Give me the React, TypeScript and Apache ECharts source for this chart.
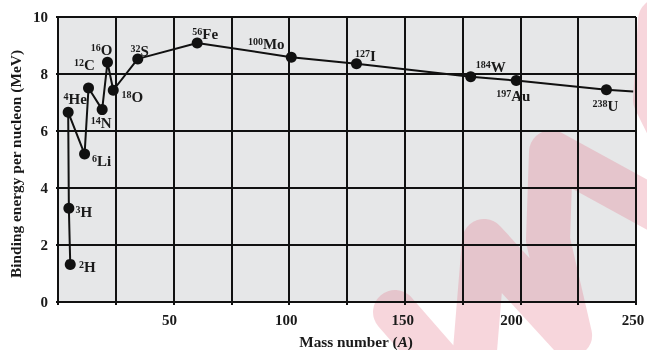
import React, { useEffect, useRef } from "react";
import * as echarts from "echarts";

// ---- data ----
const nuclides = ["2H", "3H", "4He", "6Li", "12C", "14N", "16O", "18O", "32S", "56Fe", "100Mo", "127I", "184W", "197Au", "238U", ""];
const massNumbers = [5.3, 4.7, 4.4, 11.5, 13.2, 19.1, 21.4, 23.9, 34.5, 60.2, 100.9, 129.1, 178.5, 198.2, 237.2, 248.8];
const bindingEnergy = [1.32, 3.29, 6.66, 5.19, 7.51, 6.75, 8.41, 7.43, 8.53, 9.09, 8.59, 8.36, 7.9, 7.77, 7.45, 7.39];
const xTickLabels = [50, 100, 150, 200, 250];
const yTickLabels = [0, 2, 4, 6, 8, 10];
const xTitle = "Mass number ({i|A})";
const yTitle = "Binding energy per nucleon (MeV)";

// ---- label placement (style) ----
const labelOffsets: Record<string, [number, number]> = {
  "2H": [17, 3],
  "3H": [15, 4],
  "4He": [7, -13],
  "6Li": [17, 7],
  "12C": [-4, -23],
  "14N": [-1, 13],
  "16O": [-6, -12],
  "18O": [19, 7],
  "32S": [2, -8],
  "56Fe": [8, -9],
  "100Mo": [-25, -13],
  "127I": [9, -8],
  "184W": [20, -10],
  "197Au": [-3, 15],
  "238U": [-1, 16],
};
const xLabelShift: Record<number, number> = { 50: 4, 100: 3, 150: 2, 200: 9, 250: 3 };
// decorative background watermark stroke (pixels)
const watermarkPath = [
  [395, 312], [471, 399], [484, 241], [570, 335], [548, 240], [551, 152], [730, 250], [655, 100], [660, 20],
];

const SERIF = "'Liberation Serif', 'DejaVu Serif', serif";

export default function App() {
  const ref = useRef<HTMLDivElement>(null);
  useEffect(() => {
    document.body.style.margin = "0";
    const chart = echarts.init(ref.current!, null, { renderer: "svg" });
    const gridLeft = 58, gridTop = 17, gridW = 578, gridH = 285;

    const data = massNumbers.map((x, i) => {
      const name = nuclides[i];
      if (!name) return { value: [x, bindingEnergy[i]], symbol: "none", label: { show: false } };
      const m = name.match(/^(\d+)(\D+)$/)!;
      return {
        name,
        value: [x, bindingEnergy[i]],
        label: {
          show: true,
          position: "inside",
          align: "center",
          verticalAlign: "middle",
          offset: labelOffsets[name],
          formatter: `{s|${m[1]}}{e|${m[2]}}`,
        },
      };
    });

    const xRich: Record<string, any> = {};
    xTickLabels.forEach((v) => {
      xRich["x" + v] = { padding: [0, 2 * xLabelShift[v], 0, 0], fontFamily: SERIF, fontWeight: "bold", fontSize: 15, color: "#1a1a1a" };
    });

    chart.setOption({
      animation: false,
      graphic: [
        {
          type: "text",
          zlevel: 1,
          x: 15,
          y: 164,
          rotation: Math.PI / 2,
          style: {
            text: yTitle,
            fontFamily: SERIF, fontWeight: "bold", fontSize: 15.4, fill: "#1a1a1a",
            align: "center", verticalAlign: "middle",
          },
        },
      ],
      grid: {
        left: gridLeft, top: gridTop, width: gridW, height: gridH,
        outerBoundsMode: "none", containLabel: false,
        show: true, backgroundColor: "#e6e7e8", borderWidth: 0, z: 0,
      },
      xAxis: {
        type: "value",
        zlevel: 1,
        z: 5,
        min: 0,
        max: 250,
        interval: 25,
        name: xTitle,
        nameLocation: "middle",
        nameGap: 32,
        nameTextStyle: {
          fontFamily: SERIF, fontWeight: "bold", fontSize: 15.3, color: "#1a1a1a",
          padding: [0, 0, 0, 18],
          rich: { i: { fontFamily: SERIF, fontWeight: "bold", fontStyle: "italic", fontSize: 15.3, color: "#1a1a1a" } },
        },
        axisLine: { show: true, lineStyle: { color: "#111", width: 2 } },
        axisTick: { show: true, length: 3, lineStyle: { color: "#111", width: 2 } },
        axisLabel: {
          margin: 10,
          formatter: (v: number) => (xTickLabels.includes(v) ? `{x${v}|${v}}` : ""),
          rich: xRich,
        },
        splitLine: { show: true, lineStyle: { color: "#111", width: 2 } },
      },
      yAxis: {
        type: "value",
        zlevel: 1,
        z: 5,
        min: 0,
        max: 10,
        interval: 2,
        axisLine: { show: true, lineStyle: { color: "#111", width: 2 } },
        axisTick: { show: true, length: 2, lineStyle: { color: "#111", width: 2 } },
        axisLabel: {
          margin: 10,
          fontFamily: SERIF, fontWeight: "bold", fontSize: 15, color: "#1a1a1a",
          padding: [4, 0, 0, 0],
          formatter: (v: number) => (yTickLabels.includes(v) ? String(v) : ""),
        },
        splitLine: { show: true, lineStyle: { color: "#111", width: 2 } },
      },
      series: [
        {
          type: "custom",
          coordinateSystem: "none",
          silent: true,
          zlevel: 0,
          z: 1,
          data: [0],
          renderItem: () => ({
            type: "polyline",
            shape: { points: watermarkPath },
            style: { stroke: "rgb(228,120,138)", opacity: 0.3, lineWidth: 44, lineCap: "round", lineJoin: "round", fill: null },
          }),
        },
        {
          type: "line",
          zlevel: 1,
          data,
          symbol: "circle",
          symbolSize: 11,
          showAllSymbol: true,
          itemStyle: { color: "#111" },
          lineStyle: { color: "#111", width: 2 },
          label: {
            rich: {
              s: { fontFamily: SERIF, fontWeight: "bold", fontSize: 10, color: "#1a1a1a", verticalAlign: "top", lineHeight: 15 },
              e: { fontFamily: SERIF, fontWeight: "bold", fontSize: 15, color: "#1a1a1a", lineHeight: 15, verticalAlign: "bottom" },
            },
          },
          z: 6,
        },
      ],
    });
    return () => chart.dispose();
  }, []);
  return <div ref={ref} style={{ position: "fixed", left: 0, top: 0, width: 647, height: 350 }} />;
}
